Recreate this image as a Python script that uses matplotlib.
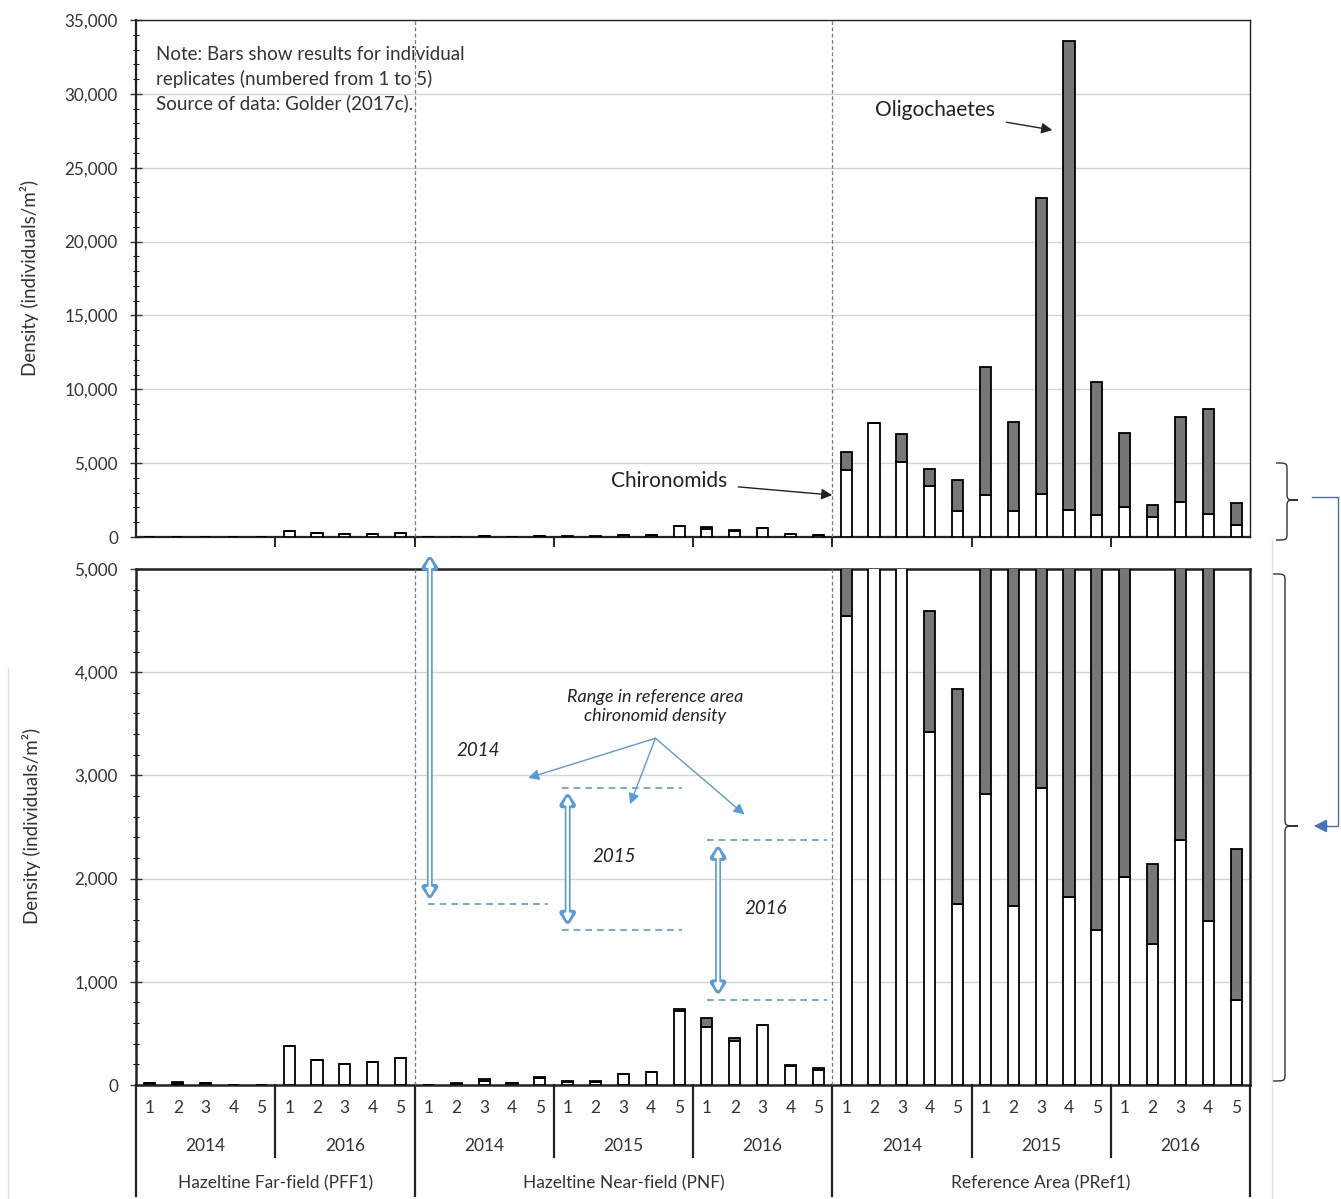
import numpy as np
import matplotlib.pyplot as plt
from matplotlib.lines import Line2D
from matplotlib.patches import FancyArrowPatch, PathPatch
from matplotlib.path import Path
from matplotlib.ticker import MultipleLocator, FuncFormatter

plt.rcParams['font.family'] = ['Lato', 'DejaVu Sans']

# sites, sampling years and replicate numbers along the x axis
sites = ['Hazeltine Far-field (PFF1)', 'Hazeltine Near-field (PNF)', 'Reference Area (PRef1)']
site_years = [['2014', '2016'], ['2014', '2015', '2016'], ['2014', '2015', '2016']]
replicates = ['1', '2', '3', '4', '5']

# density (individuals/m2) per replicate, one row per site-year
chironomids = [
    [15, 10, 15, 0, 0],              # PFF1 2014
    [380, 240, 200, 225, 260],       # PFF1 2016
    [0, 10, 40, 15, 70],             # PNF 2014
    [25, 25, 105, 125, 720],         # PNF 2015
    [565, 425, 585, 185, 150],       # PNF 2016
    [4540, 7700, 5050, 3420, 1750],  # PRef1 2014
    [2820, 1730, 2880, 1820, 1500],  # PRef1 2015
    [2020, 1370, 2370, 1590, 825],   # PRef1 2016
]
oligochaetes = [
    [5, 15, 0, 0, 0],
    [0, 0, 0, 0, 0],
    [0, 12, 18, 0, 10],
    [12, 12, 0, 0, 15],
    [85, 30, 0, 10, 15],
    [1220, 0, 1900, 1170, 2090],
    [8710, 6040, 20100, 31780, 8980],
    [5000, 770, 5730, 7080, 1465],
]
ref_rows = {'2014': 5, '2015': 6, '2016': 7}

W, H = 1341, 1199
TXT = '#333333'
BLUE = '#5B9BD5'
GREY = '#777777'

chiro = np.array(chironomids).ravel()
olig = np.array(oligochaetes).ravel()
x = np.arange(len(chiro))
n_rep = len(replicates)

fig = plt.figure(figsize=(W / 100, H / 100), dpi=100)
ax1 = fig.add_axes([136 / W, 1 - 537 / H, 1114 / W, 517 / H])
ax2 = fig.add_axes([136 / W, 1 - 1085 / H, 1114 / W, 516 / H])

comma = FuncFormatter(lambda v, p: '{:,.0f}'.format(v))

for ax, top, major, minor in [(ax1, 35000, 5000, 1000), (ax2, 5000, 1000, 200)]:
    ax.bar(x, chiro, width=0.4, color='white', edgecolor='black', linewidth=1.3, zorder=3)
    ax.bar(x, olig, width=0.4, bottom=chiro, color=GREY, edgecolor='black', linewidth=1.3, zorder=3)
    ax.set_xlim(-0.5, len(x) - 0.5)
    ax.set_ylim(0, top)
    ax.yaxis.set_major_locator(MultipleLocator(major))
    ax.yaxis.set_minor_locator(MultipleLocator(minor))
    ax.yaxis.set_major_formatter(comma)
    ax.tick_params(axis='y', which='major', direction='inout', length=8, width=1, labelsize=12.3,
                   colors=TXT, pad=9)
    ax.tick_params(axis='y', which='minor', direction='inout', length=5, width=0.8)
    ax.grid(axis='y', color='#d4d4d4', linewidth=1, zorder=0)
    ax.set_axisbelow(True)
    for b in [9.5, 24.5]:
        ax.axvline(b, color='#777777', linestyle=(0, (3, 2)), linewidth=0.9, zorder=4)
    for s in ax.spines.values():
        s.set_color('#222222')

for s in ['left', 'bottom']:
    ax1.spines[s].set_linewidth(1.6)
ax1.spines['top'].set_linewidth(1.0)
ax1.spines['right'].set_linewidth(1.0)
for s in ax2.spines.values():
    s.set_linewidth(1.8)

# group boundaries
year_bounds = []
site_bounds = [-0.5]
pos = 0
for yrs in site_years:
    for k in range(len(yrs)):
        pos += n_rep
        if k < len(yrs) - 1:
            year_bounds.append(pos - 0.5)
    site_bounds.append(pos - 0.5)

ax1.set_xticks(year_bounds + site_bounds[1:-1])
ax1.tick_params(axis='x', direction='out', length=7, width=1.2, labelbottom=False)
ax2.set_xticks([])

# category axis under the lower panel
tr = ax2.get_xaxis_transform()
for i in x:
    ax2.text(i, -0.045, replicates[i % n_rep], transform=tr, ha='center', va='center',
             fontsize=12.5, color=TXT)
pos = 0
for site, yrs in zip(sites, site_years):
    start = pos
    for yr in yrs:
        ax2.text(pos + (n_rep - 1) / 2, -0.118, yr, transform=tr, ha='center', va='center',
                 fontsize=12.5, color=TXT)
        pos += n_rep
    ax2.text((start + pos - 1) / 2, -0.19, site, transform=tr, ha='center', va='center',
             fontsize=12.5, color=TXT)
for b in year_bounds:
    ax2.add_line(Line2D([b, b], [0, -0.14], transform=tr, color='#222222', lw=1.6, clip_on=False))
for b in site_bounds:
    ax2.add_line(Line2D([b, b], [0, -0.215], transform=tr, color='#222222', lw=1.6, clip_on=False))

# axis titles
fig.text(30 / W, 1 - 278 / H, 'Density (individuals/m²)', rotation=90, ha='center', va='center',
         fontsize=13.5, color=TXT)
fig.text(32 / W, 1 - 826 / H, 'Density (individuals/m²)', rotation=90, ha='center', va='center',
         fontsize=13.5, color=TXT)

# notes and labels in the upper panel
ax1.text(0.018, 0.95, 'Note: Bars show results for individual\nreplicates (numbered from 1 to 5)\n'
         'Source of data: Golder (2017c).', transform=ax1.transAxes, ha='left', va='top',
         fontsize=13.5, color=TXT, linespacing=1.45, zorder=2)
ax1.annotate('Oligochaetes', xy=(32.4, 27550), xytext=(28.2, 28900), ha='center', va='center',
             fontsize=15, color='#222222',
             arrowprops=dict(arrowstyle='-|>', color='#222222', lw=1, mutation_scale=16,
                             shrinkA=6, shrinkB=0))
ax1.annotate('Chironomids', xy=(24.5, 2840), xytext=(18.64, 3800), ha='center', va='center',
             fontsize=15, color='#222222',
             arrowprops=dict(arrowstyle='-|>', color='#222222', lw=1, mutation_scale=16,
                             shrinkA=6, shrinkB=0))

# reference-area chironomid range for each year
arrow_cap = 5180
range_layout = {'2014': (10.05, 10.0, 14.3, 11.8, 3240),
                '2015': (15.0, 14.8, 19.1, 16.66, 2210),
                '2016': (20.4, 20.0, 24.3, 22.1, 1715)}
for yr, (ax_x, x0, x1, tx, ty) in range_layout.items():
    vals = chironomids[ref_rows[yr]]
    lo, hi = min(vals), max(vals)
    if yr != '2014':
        ax2.plot([x0, x1], [hi, hi], color=BLUE, ls=(0, (4, 3)), lw=1.2, zorder=5)
    ax2.plot([x0, x1], [lo, lo], color=BLUE, ls=(0, (4, 3)), lw=1.2, zorder=5)
    top = min(hi, arrow_cap)
    outer = FancyArrowPatch((ax_x, lo), (ax_x, top), arrowstyle='<|-|>,head_length=0.45,head_width=0.3',
                            mutation_scale=13, color=BLUE, lw=4.2, shrinkA=3, shrinkB=3,
                            clip_on=False, zorder=6)
    inner = FancyArrowPatch((ax_x, lo), (ax_x, top), arrowstyle='<|-|>,head_length=0.3,head_width=0.16',
                            mutation_scale=13, color='white', lw=1.8, shrinkA=6, shrinkB=6,
                            clip_on=False, zorder=7)
    ax2.add_patch(outer)
    ax2.add_patch(inner)
    ax2.text(tx, ty, yr, ha='center', va='center', fontsize=13.5, style='italic', color='#222222', zorder=6)

ax2.text(18.15, 3670, 'Range in reference area\nchironomid density', ha='center', va='center',
         fontsize=13, style='italic', color='#222222', linespacing=1.2, zorder=6)
for tgt in [(13.58, 2975), (17.24, 2720), (21.35, 2620)]:
    ax2.annotate('', xy=tgt, xytext=(18.15, 3360),
                 arrowprops=dict(arrowstyle='-|>', color=BLUE, lw=1, mutation_scale=16,
                                 shrinkA=0, shrinkB=0), zorder=6)


# braces and connector on the right margin
def px(xp, yp):
    return xp / W, 1 - yp / H


def brace(x_end, x_mid, x_tip, y_top, y_bot, y_tip, r=8):
    pts = [(x_end, y_top), (x_mid, y_top), (x_mid, y_top), (x_mid, y_top + r),
           (x_mid, y_tip - r), (x_mid, y_tip), (x_mid, y_tip), (x_tip, y_tip),
           (x_tip, y_tip), (x_mid, y_tip), (x_mid, y_tip), (x_mid, y_tip + r),
           (x_mid, y_bot - r), (x_mid, y_bot), (x_mid, y_bot), (x_end, y_bot)]
    codes = [Path.MOVETO, Path.CURVE4, Path.CURVE4, Path.CURVE4,
             Path.LINETO, Path.CURVE4, Path.CURVE4, Path.CURVE4,
             Path.MOVETO, Path.CURVE4, Path.CURVE4, Path.CURVE4,
             Path.LINETO, Path.CURVE4, Path.CURVE4, Path.CURVE4]
    path = Path([px(*p) for p in pts], codes)
    fig.add_artist(PathPatch(path, transform=fig.transFigure, fill=False, edgecolor='#333333', lw=1))


brace(1276, 1287, 1298, 463, 540, 500)
brace(1273, 1285, 1298, 574, 1081, 826)
cx, cy = zip(*[px(1312, 497), px(1338, 497), px(1338, 826), px(1326, 826)])
fig.add_artist(Line2D(cx, cy, transform=fig.transFigure, color='#4a6fa5', lw=1))
fig.add_artist(FancyArrowPatch(px(1330, 826), px(1311, 826), transform=fig.transFigure,
                               arrowstyle='-|>', mutation_scale=20, color='#4472C4', lw=1))

# page edges
for xs, ys in [([1272, 1272], [540, 1199]), ([8, 8], [668, 1199])]:
    lx, ly = zip(*[px(a, b) for a, b in zip(xs, ys)])
    fig.add_artist(Line2D(lx, ly, transform=fig.transFigure, color='#e2e2e2', lw=1))

fig.savefig('out.png', dpi=100)
